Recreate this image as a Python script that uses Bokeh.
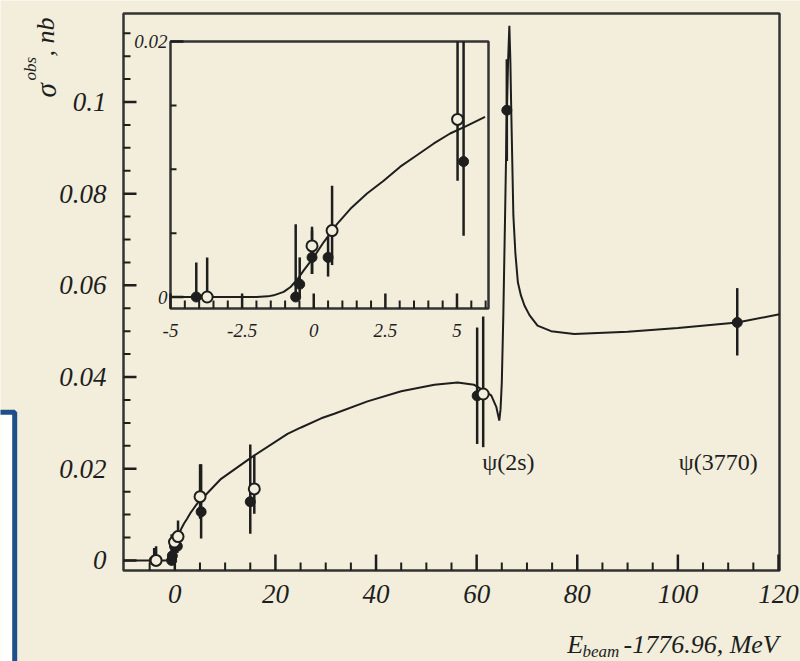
import numpy as np
from bokeh.plotting import figure
from bokeh.models import Range1d
from bokeh.core.properties import value
from bokeh.embed import file_html
from bokeh.resources import INLINE

# ---------------- data ----------------
curve_x = [-10.2, -5.0, -2.0, -1.6, -1.4, -1.05, -0.81, -0.58, -0.35, 0.0, 0.35, 0.81,
           1.28, 1.86, 2.44, 3.02, 3.60, 4.18, 4.76, 5.34, 5.98, 9.2, 15.8, 22.4, 25.1,
           29.1, 31.7, 38.3, 45.0, 51.6, 56.2, 59.5, 61.2, 62.9, 63.9, 64.5, 64.75, 65.0,
           65.3, 65.65, 66.0, 66.25, 66.5, 66.7, 66.9, 67.3, 67.7, 68.2, 68.8, 69.5, 70.5,
           72.1, 74.8, 79.4, 90.0, 100.0, 111.8, 120.2]
curve_y = [0.0, 0.0, 0.0, 0.00005, 0.00013, 0.0004, 0.00078, 0.00135, 0.00208, 0.00312,
           0.0043, 0.0057, 0.0069, 0.0081, 0.0091, 0.0102, 0.0111, 0.0120, 0.0128, 0.0134,
           0.0141, 0.0178, 0.0229, 0.0276, 0.0290, 0.0310, 0.0320, 0.0347, 0.0369, 0.0383,
           0.0388, 0.0383, 0.0372, 0.0360, 0.0335, 0.0305, 0.0330, 0.0388, 0.0534, 0.0752,
           0.0980, 0.1090, 0.1166, 0.1090, 0.0969, 0.0752, 0.0670, 0.0606, 0.0578, 0.0556,
           0.0535, 0.0512, 0.0500, 0.0494, 0.0499, 0.0507, 0.0519, 0.0537]

filled_x = [-4.10, -0.63, -0.49, -0.06, 0.50, 5.23, 15.0, 60.1, 66.0, 111.8]
filled_y = [0.0, 0.0, 0.0010, 0.0031, 0.0031, 0.0106, 0.0128, 0.0359, 0.0982, 0.0519]
filled_lo = [0.0, 0.0, 0.0, 0.0018, 0.0016, 0.0048, 0.0058, 0.0254, 0.0871, 0.0447]
filled_hi = [0.0027, 0.0057, 0.0031, 0.0052, 0.0047, 0.0210, 0.0253, 0.0508, 0.1093, 0.0594]

open_x = [-3.72, -0.06, 0.64, 5.02, 15.8, 61.3]
open_y = [0.0, 0.0040, 0.0052, 0.0139, 0.0156, 0.0363]
open_lo = [0.0, 0.0018, 0.0025, 0.0091, 0.0102, 0.0247]
open_hi = [0.0031, 0.0055, 0.0087, 0.0210, 0.0229, 0.0532]

x_major_ticks = [0, 20, 40, 60, 80, 100, 120]
x_major_labels = ["0", "20", "40", "60", "80", "100", "120"]
x_minor_ticks = [-5, 5, 10, 15, 25, 30, 35, 45, 50, 55, 65, 70, 75, 85, 90, 95, 105, 110, 115]
y_major_ticks = [0, 0.02, 0.04, 0.06, 0.08, 0.1]
y_major_labels = ["0", "0.02", "0.04", "0.06", "0.08", "0.1"]
y_minor_ticks = [0.005, 0.01, 0.015, 0.025, 0.03, 0.035, 0.045, 0.05, 0.055, 0.065, 0.07,
                 0.075, 0.085, 0.09, 0.095, 0.105, 0.11, 0.115]

inset_x_ticks = [-5, -2.5, 0, 2.5, 5]
inset_x_labels = ["-5", "-2.5", "0", "2.5", "5"]
inset_x_minor = [-4.5, -4, -3.5, -3, -2, -1.5, -1, -0.5, 0.5, 1, 1.5, 2, 3, 3.5, 4, 4.5, 5.5, 6]
inset_y_ticks = [0, 0.02]
inset_y_labels = ["0", "0.02"]
inset_y_minor = [0.005, 0.01, 0.015]

resonance_names = ["ψ(2s)", "ψ(3770)"]

# ---------------- styles / geometry (page pixels) ----------------
BG = "#f2eedb"
INK = "#1e1e1e"
FRAME = "#333333"
FONT = "Liberation Serif"
BLUE = "#1f4f8b"

W, H = 800, 661
FL, FR, FT, FB = 123, 779, 13, 570      # main axes box
X0, X1 = -10.2, 120.2
Y0, Y1 = -0.0022, 0.1193
ux = (X1 - X0) / (FR - FL)              # data units per pixel
uy = (Y1 - Y0) / (FB - FT)

IL, IR, IT, IB = 170, 488, 41, 308      # inset box
IX0, IX1 = -5.0, 6.1
IY0, IY1 = -0.0009, 0.02
kx = (IX1 - IX0) / (IR - IL)
ky = (IY1 - IY0) / (IB - IT)


def px2x(px):
    return X0 + (px - FL) * ux


def py2y(py):
    return Y0 + (FB - py) * uy


p = figure(width=W, height=H, x_range=Range1d(px2x(0), px2x(W)),
           y_range=Range1d(py2y(H), py2y(0)), x_axis_location=None, y_axis_location=None,
           output_backend="svg", toolbar_location=None, title=None,
           min_border=0, min_border_left=0, min_border_right=0,
           min_border_top=0, min_border_bottom=0)
p.background_fill_color = BG
p.border_fill_color = BG
p.outline_line_color = None
p.xgrid.visible = False
p.ygrid.visible = False

txt = dict(text_font=value(FONT), text_color=INK)

# decorative blue box at lower left
p.quad(left=[px2x(-20)], right=[px2x(14.2)], bottom=[py2y(720)], top=[py2y(411.8)],
       fill_color="white", line_color=BLUE, line_width=5)

# ---------------- main axes ----------------
p.quad(left=[X0], right=[X1], bottom=[Y0], top=[Y1], fill_color=None,
       line_color=FRAME, line_width=2.5)
nX, nx = len(x_major_ticks), len(x_minor_ticks)
nY, ny = len(y_major_ticks), len(y_minor_ticks)
p.segment(x0=x_major_ticks, y0=[Y0] * nX, x1=x_major_ticks, y1=[Y0 + 16 * uy] * nX,
          line_color=INK, line_width=2.5)
p.segment(x0=x_minor_ticks, y0=[Y0] * nx, x1=x_minor_ticks, y1=[Y0 + 8 * uy] * nx,
          line_color=INK, line_width=2)
p.segment(x0=[X0] * nY, y0=y_major_ticks, x1=[X0 + 13 * ux] * nY, y1=y_major_ticks,
          line_color=INK, line_width=2.5)
p.segment(x0=[X0] * ny, y0=y_minor_ticks, x1=[X0 + 7 * ux] * ny, y1=y_minor_ticks,
          line_color=INK, line_width=2)
p.text(x=x_major_ticks, y=[Y0 - 23 * uy] * nX, text=x_major_labels, text_align="center",
       text_baseline="middle", text_font_style="italic", text_font_size="27px", **txt)
p.text(x=[X0 - 17 * ux] * nY, y=y_major_ticks, text=y_major_labels, text_align="right",
       text_baseline="middle", text_font_style="italic", text_font_size="27px", **txt)

# ---------------- main data ----------------
p.line(curve_x, curve_y, line_color=INK, line_width=2)
p.segment(x0=filled_x, y0=filled_lo, x1=filled_x, y1=filled_hi, line_color=INK, line_width=2.5)
p.segment(x0=open_x, y0=open_lo, x1=open_x, y1=open_hi, line_color=INK, line_width=2.5)
p.scatter(filled_x, filled_y, marker="circle", size=10, fill_color=INK, line_color=INK)
p.scatter(open_x, open_y, marker="circle", size=11, fill_color=BG, line_color=INK, line_width=2)

p.text(x=[px2x(481.7), px2x(678.3)], y=[py2y(461)] * 2, text=resonance_names,
       text_align="left", text_baseline="middle", text_font_size="24px", **txt)

# ---------------- inset ----------------
p.extra_x_ranges = {"ix": Range1d(IX0 - IL * kx, IX1 + (W - IR) * kx)}
p.extra_y_ranges = {"iy": Range1d(IY0 - (H - IB) * ky, IY1 + IT * ky)}
kw = dict(x_range_name="ix", y_range_name="iy")

p.quad(left=[IX0], right=[IX1], bottom=[IY0], top=[IY1], fill_color=BG,
       line_color=FRAME, line_width=2.5, **kw)

cx = np.array(curve_x)
cy = np.array(curve_y)
m = (cx >= IX0) & (cx <= IX1)
p.line(cx[m], cy[m], line_color=INK, line_width=2, **kw)


def inset_points(xs, ys, lo, hi):
    xs, ys, lo, hi = map(np.array, (xs, ys, lo, hi))
    sel = (xs >= IX0) & (xs <= IX1)
    return xs[sel], ys[sel], np.clip(lo[sel], IY0, IY1), np.clip(hi[sel], IY0, IY1)


fx, fy, flo, fhi = inset_points(filled_x, filled_y, filled_lo, filled_hi)
ox, oy, olo, ohi = inset_points(open_x, open_y, open_lo, open_hi)
p.segment(x0=fx, y0=flo, x1=fx, y1=fhi, line_color=INK, line_width=2.5, **kw)
p.segment(x0=ox, y0=olo, x1=ox, y1=ohi, line_color=INK, line_width=2.5, **kw)
p.scatter(fx, fy, marker="circle", size=10, fill_color=INK, line_color=INK, **kw)
p.scatter(ox, oy, marker="circle", size=11, fill_color=BG, line_color=INK, line_width=2, **kw)

na, nb_ = len(inset_x_ticks), len(inset_x_minor)
nc, nd = len(inset_y_ticks), len(inset_y_minor)
p.segment(x0=inset_x_ticks, y0=[IY0] * na, x1=inset_x_ticks, y1=[IY0 + 15 * ky] * na,
          line_color=INK, line_width=2.5, **kw)
p.segment(x0=inset_x_minor, y0=[IY0] * nb_, x1=inset_x_minor, y1=[IY0 + 8 * ky] * nb_,
          line_color=INK, line_width=2, **kw)
p.segment(x0=[IX0] * nc, y0=inset_y_ticks, x1=[IX0 + 13 * kx] * nc, y1=inset_y_ticks,
          line_color=INK, line_width=2.5, **kw)
p.segment(x0=[IX0] * nd, y0=inset_y_minor, x1=[IX0 + 6 * kx] * nd, y1=inset_y_minor,
          line_color=INK, line_width=2, **kw)
p.text(x=inset_x_ticks, y=[IY0 - 22 * ky] * na, text=inset_x_labels, text_align="center",
       text_baseline="middle", text_font_style="italic", text_font_size="19px", **txt, **kw)
p.text(x=[IX0 - 3 * kx] * nc, y=inset_y_ticks, text=inset_y_labels, text_align="right",
       text_baseline="middle", text_font_style="italic", text_font_size="19px", **txt, **kw)

# ---------------- axis titles ----------------
ang = np.pi / 2
p.text(x=[px2x(45)], y=[py2y(97)], text=["σ"], angle=ang, text_align="left",
       text_baseline="alphabetic", text_font_style="italic", text_font_size="29px", **txt)
p.text(x=[px2x(30)], y=[py2y(80)], text=["obs"], angle=ang, text_align="left",
       text_baseline="alphabetic", text_font_style="italic", text_font_size="17px", **txt)
p.text(x=[px2x(45)], y=[py2y(56)], text=[", nb"], angle=ang, text_align="left",
       text_baseline="alphabetic", text_font_style="italic", text_font_size="26px", **txt)

p.text(x=[px2x(566.7)], y=[py2y(644)], text=["E"], text_align="left",
       text_baseline="alphabetic", text_font_style="italic", text_font_size="26px", **txt)
p.text(x=[px2x(582)], y=[py2y(651)], text=["beam"], text_align="left",
       text_baseline="alphabetic", text_font_style="italic", text_font_size="17px", **txt)
p.text(x=[px2x(623)], y=[py2y(644)], text=["-1776.96, MeV"], text_align="left",
       text_baseline="alphabetic", text_font_style="italic", text_font_size="26px", **txt)

open("out.html", "w").write(file_html(p, INLINE))
